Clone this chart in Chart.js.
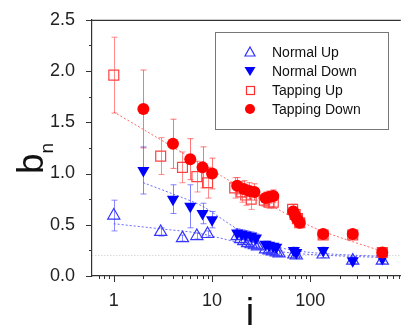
<!DOCTYPE html>
<html>
<head>
<meta charset="utf-8">
<script src="https://cdn.jsdelivr.net/npm/chart.js@4/dist/chart.umd.min.js"></script>
<style>
html,body{margin:0;padding:0;background:#fff;}
#wrap{width:409px;height:331px;position:relative;}
</style>
</head>
<body>
<div id="wrap"><canvas id="c" width="409" height="331"></canvas></div>
<script>
// ---- data ----
const normalUpI   = [1, 3, 5, 7, 9, 18, 19.5, 21, 23, 25, 27, 29, 35, 38, 41, 45, 48, 68, 72, 135, 270, 540];
const normalUpB   = [0.59, 0.43, 0.37, 0.39, 0.41, 0.39, 0.36, 0.34, 0.32, 0.31, 0.30, 0.29, 0.26, 0.25, 0.24, 0.23, 0.22, 0.21, 0.20, 0.21, 0.15, 0.15];
const normalUpErr = [0.15, 0.04, 0.03, 0.03, 0.03, 0.03, 0.03, 0.03, 0.03, 0.03, 0.03, 0.03, 0.03, 0.03, 0.03, 0.03, 0.03, 0.03, 0.03, 0.03, 0.03, 0.03];

const normalDownI   = [2, 4, 6, 8, 10, 18, 20, 22, 25, 28, 35, 38, 42, 45, 68, 72, 135, 270, 540];
const normalDownB   = [1.03, 0.75, 0.68, 0.61, 0.55, 0.42, 0.41, 0.40, 0.39, 0.37, 0.31, 0.30, 0.29, 0.28, 0.25, 0.23, 0.25, 0.15, 0.17];
const normalDownErr = [0.23, 0.14, 0.21, 0.10, 0.08, 0.04, 0.04, 0.04, 0.04, 0.04, 0.03, 0.03, 0.03, 0.03, 0.03, 0.03, 0.03, 0.03, 0.03];

const tapUpI   = [1, 3, 5, 7, 9, 17, 20, 22, 25, 34, 38, 42, 66, 70, 74, 78, 135, 270, 540];
const tapUpB   = [1.96, 1.17, 1.06, 0.97, 0.91, 0.86, 0.82, 0.79, 0.75, 0.74, 0.72, 0.72, 0.65, 0.60, 0.56, 0.52, 0.40, 0.40, 0.23];
const tapUpErr = [0.37, 0.18, 0.15, 0.15, 0.15, 0.10, 0.10, 0.10, 0.10, 0.06, 0.06, 0.06, 0.05, 0.05, 0.05, 0.05, 0.03, 0.03, 0.02];

const tapDownI   = [2, 4, 6, 8, 10, 18, 21, 24, 27, 35, 38, 42, 67, 70, 73, 78, 135, 270, 540];
const tapDownB   = [1.63, 1.29, 1.14, 1.06, 1.00, 0.88, 0.85, 0.83, 0.82, 0.76, 0.77, 0.78, 0.63, 0.59, 0.56, 0.52, 0.41, 0.41, 0.23];
const tapDownErr = [0.38, 0.24, 0.20, 0.20, 0.15, 0.08, 0.08, 0.08, 0.08, 0.06, 0.06, 0.06, 0.05, 0.05, 0.05, 0.05, 0.03, 0.03, 0.02];

// dashed fit curves
const fitTapI = [1, 2, 12.5, 49, 123, 540];
const fitTapB = [1.60, 1.43, 0.975, 0.64, 0.45, 0.24];
const fitNDownI = [2, 4, 8, 18, 40, 100, 540];
const fitNDownB = [0.91, 0.80, 0.68, 0.46, 0.30, 0.23, 0.19];
const fitNUpI = [1, 3, 7, 18, 40, 100, 540];
const fitNUpB = [0.51, 0.46, 0.42, 0.33, 0.25, 0.21, 0.18];

const refLineB = 0.2;
const xMin = 0.605, xMax = 833;
const yMin = 0, yMax = 2.5;
const xMajorTicks = [1, 10, 100];
const yMajorStep = 0.5, yMinorStep = 0.25;

const legendLabels = ['Normal Up', 'Normal Down', 'Tapping Up', 'Tapping Down'];

const pts = (xs, ys) => xs.map((v, k) => ({x: v, y: ys[k]}));

Chart.defaults.font.family = '"Liberation Sans", Arial, Helvetica, sans-serif';
Chart.defaults.color = '#222';

const errPlugin = {
  id: 'errbars',
  beforeDatasetsDraw(chart) {
    const {ctx, chartArea, scales: {x, y}} = chart;
    ctx.save();
    ctx.beginPath();
    ctx.rect(chartArea.left, chartArea.top, chartArea.right - chartArea.left, chartArea.bottom - chartArea.top);
    ctx.clip();
    chart.data.datasets.forEach(ds => {
      if (!ds.err) return;
      ctx.strokeStyle = ds.errColor;
      ctx.lineWidth = 1;
      ds.data.forEach((p, j) => {
        const e = ds.err[j];
        const px = Math.round(x.getPixelForValue(p.x)) + 0.5;
        const y1 = y.getPixelForValue(p.y + e), y2 = y.getPixelForValue(p.y - e);
        ctx.beginPath();
        ctx.moveTo(px, y1); ctx.lineTo(px, y2);
        ctx.moveTo(px - 3, y1); ctx.lineTo(px + 3, y1);
        ctx.moveTo(px - 3, y2); ctx.lineTo(px + 3, y2);
        ctx.stroke();
      });
    });
    ctx.restore();
  }
};

const decoPlugin = {
  id: 'deco',
  afterDraw(chart) {
    const {ctx, chartArea, scales: {x, y}} = chart;
    ctx.save();
    ctx.strokeStyle = '#333';
    ctx.lineWidth = 1.2;
    // top frame line
    ctx.beginPath();
    ctx.moveTo(chartArea.left, chartArea.top + 0.5);
    ctx.lineTo(chartArea.right, chartArea.top + 0.5);
    ctx.stroke();
    // x ticks
    ctx.lineWidth = 1;
    const b = chartArea.bottom;
    ctx.beginPath();
    for (let d = -1; d <= 3; d++) {
      for (let m = 1; m <= 9; m++) {
        const v = m * Math.pow(10, d);
        if (v < xMin || v > xMax) continue;
        const px = Math.round(x.getPixelForValue(v)) + 0.5;
        const len = (m === 1) ? 6 : 3;
        ctx.moveTo(px, b); ctx.lineTo(px, b + len);
      }
    }
    // y ticks
    const l = chartArea.left;
    for (let v = yMin; v <= yMax + 1e-9; v += yMinorStep) {
      const py = Math.round(y.getPixelForValue(v)) + 0.5;
      const major = Math.abs(v / yMajorStep - Math.round(v / yMajorStep)) < 1e-6;
      ctx.moveTo(l, py); ctx.lineTo(l - (major ? 6 : 3), py);
    }
    ctx.stroke();

    // axis titles
    ctx.fillStyle = '#111';
    ctx.save();
    ctx.translate(43, 174);
    ctx.rotate(-Math.PI / 2);
    ctx.font = '37px "Liberation Sans", Arial, sans-serif';
    ctx.textBaseline = 'alphabetic';
    ctx.textAlign = 'left';
    ctx.fillText('b', 0, 0);
    const bw = ctx.measureText('b').width;
    ctx.font = '19px "Liberation Sans", Arial, sans-serif';
    ctx.fillText('n', bw, 10);
    ctx.restore();

    ctx.font = '38px "Liberation Sans", Arial, sans-serif';
    ctx.textAlign = 'center';
    ctx.textBaseline = 'alphabetic';
    ctx.fillText('i', 250, 325);

    // legend
    ctx.strokeStyle = '#777';
    ctx.lineWidth = 1;
    ctx.strokeRect(215.5, 32.5, 173, 97);
    const rows = [52, 71, 90, 109];
    const mx = 250;
    ctx.font = '14px "Liberation Sans", Arial, sans-serif';
    ctx.textAlign = 'left';
    ctx.textBaseline = 'middle';
    legendLabels.forEach((t, k) => {
      ctx.fillStyle = '#111';
      ctx.fillText(t, 272, rows[k] + 1);
    });
    // markers
    ctx.lineWidth = 1.2;
    // normal up: open triangle
    ctx.strokeStyle = '#3030ff';
    ctx.beginPath();
    ctx.moveTo(mx, rows[0] - 5); ctx.lineTo(mx + 5, rows[0] + 4); ctx.lineTo(mx - 5, rows[0] + 4); ctx.closePath();
    ctx.stroke();
    // normal down: filled down triangle
    ctx.fillStyle = '#0000ff';
    ctx.beginPath();
    ctx.moveTo(mx - 5.5, rows[1] - 4); ctx.lineTo(mx + 5.5, rows[1] - 4); ctx.lineTo(mx, rows[1] + 5); ctx.closePath();
    ctx.fill();
    // tapping up: open square
    ctx.strokeStyle = '#ff3030';
    ctx.strokeRect(mx - 3.5, rows[2] - 3.5, 8, 8);
    // tapping down: filled circle
    ctx.fillStyle = '#ff0000';
    ctx.beginPath();
    ctx.arc(mx, rows[3], 5, 0, Math.PI * 2);
    ctx.fill();
    ctx.restore();
  }
};

new Chart(document.getElementById('c'), {
  type: 'scatter',
  data: {
    datasets: [
      {label: 'Tapping Down', data: pts(tapDownI, tapDownB), err: tapDownErr, errColor: 'rgba(255,70,70,0.75)',
        pointStyle: 'circle', pointRadius: 6, backgroundColor: '#ff0000', borderColor: '#ff0000', borderWidth: 0, order: 1},
      {label: 'Tapping Up', data: pts(tapUpI, tapUpB), err: tapUpErr, errColor: 'rgba(255,90,90,0.7)',
        pointStyle: 'rect', pointRadius: 7, backgroundColor: 'rgba(255,255,255,0)', borderColor: '#ff4040', borderWidth: 1.2, order: 2},
      {label: 'Normal Down', data: pts(normalDownI, normalDownB), err: normalDownErr, errColor: 'rgba(80,80,255,0.7)',
        pointStyle: 'triangle', rotation: 180, pointRadius: 7, backgroundColor: '#0000ff', borderColor: '#0000ff', borderWidth: 0, order: 3},
      {label: 'Normal Up', data: pts(normalUpI, normalUpB), err: normalUpErr, errColor: 'rgba(90,90,255,0.7)',
        pointStyle: 'triangle', pointRadius: 7, backgroundColor: 'rgba(255,255,255,0)', borderColor: '#3535ff', borderWidth: 1.2, order: 4},
      {label: 'fitTap', data: pts(fitTapI, fitTapB), showLine: true, pointRadius: 0, borderColor: 'rgba(255,70,70,0.8)',
        borderWidth: 1, borderDash: [2, 2], tension: 0.3, order: 5},
      {label: 'fitNDown', data: pts(fitNDownI, fitNDownB), showLine: true, pointRadius: 0, borderColor: 'rgba(70,70,255,0.8)',
        borderWidth: 1, borderDash: [2, 2], tension: 0.3, order: 6},
      {label: 'fitNUp', data: pts(fitNUpI, fitNUpB), showLine: true, pointRadius: 0, borderColor: 'rgba(70,70,255,0.8)',
        borderWidth: 1, borderDash: [2, 2], tension: 0.3, order: 7},
      {label: 'ref', data: pts([xMin, xMax], [refLineB, refLineB]), showLine: true, pointRadius: 0, borderColor: '#c8c8c8',
        borderWidth: 1, borderDash: [1, 2], order: 8}
    ]
  },
  options: {
    responsive: false,
    animation: false,
    devicePixelRatio: 1,
    layout: {padding: {top: 13, left: 0, right: 0, bottom: 0}},
    plugins: {legend: {display: false}, tooltip: {enabled: false}},
    scales: {
      x: {
        type: 'logarithmic', min: xMin, max: xMax,
        afterBuildTicks: s => { s.ticks = xMajorTicks.map(v => ({value: v, major: true})); },
        afterFit: s => { s.height = 55; },
        grid: {display: false},
        border: {display: true, color: '#333', width: 1.2},
        ticks: {font: {size: 18}, color: '#222', padding: 6, maxRotation: 0, autoSkip: false, callback: v => String(v)}
      },
      y: {
        type: 'linear', min: yMin, max: yMax,
        afterFit: s => { s.width = 92; },
        grid: {display: false},
        border: {display: true, color: '#333', width: 1.2},
        ticks: {font: {size: 18}, color: '#222', padding: 9, stepSize: yMajorStep, callback: v => Number(v).toFixed(1)}
      }
    }
  },
  plugins: [errPlugin, decoPlugin]
});
</script>
</body>
</html>
